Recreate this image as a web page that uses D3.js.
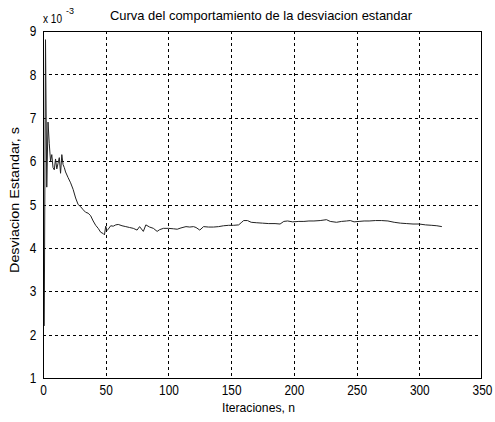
<!DOCTYPE html>
<html>
<head>
<meta charset="utf-8">
<script src="https://cdn.jsdelivr.net/npm/d3@7"></script>
<style>
  html, body { margin: 0; padding: 0; background: #fff; }
  svg text { font-family: "Liberation Sans", Arial, sans-serif; fill: #000; }
  .sq { transform-box: fill-box; transform-origin: center; transform: scaleX(0.82); }
</style>
</head>
<body>
<svg id="chart" width="495" height="422"></svg>
<script>
// ---- data ----
const iterations = [1,2,3,4,5,6,7,8,9,10,11,12,13,14,15,16,17,18,20,22,24,26,28,30,32,34,36,38,40,42,44,46,48,49,50,51,52,54,56,58,60,63,66,69,72,75,77,80,82,85,88,91,93,96,100,104,107,110,114,117,120,122,125,128,132,136,140,144,148,152,156,158,160,163,166,170,175,180,185,189,192,195,199,204,208,212,216,221,226,229,234,238,242,245,248,252,256,260,265,270,275,280,285,290,295,300,305,310,314,318];
const stdDev = [2.2,8.8,5.4,6.9,6.4,6.0,6.15,5.85,5.8,6.05,5.82,5.95,6.08,5.72,6.15,5.92,5.85,5.75,5.62,5.5,5.35,5.15,5.0,4.95,4.88,4.82,4.8,4.74,4.62,4.52,4.45,4.36,4.33,4.3,4.5,4.4,4.43,4.51,4.5,4.53,4.54,4.51,4.49,4.47,4.45,4.41,4.49,4.38,4.53,4.48,4.45,4.38,4.42,4.45,4.45,4.44,4.43,4.46,4.49,4.48,4.49,4.47,4.41,4.49,4.48,4.48,4.49,4.51,4.52,4.52,4.53,4.58,4.63,4.63,4.59,4.58,4.57,4.56,4.56,4.55,4.61,4.62,4.6,4.61,4.61,4.62,4.62,4.63,4.65,4.61,4.59,4.61,4.62,4.63,4.6,4.61,4.62,4.62,4.63,4.63,4.62,4.59,4.57,4.56,4.55,4.55,4.53,4.52,4.51,4.49];
const xTicks = [0,50,100,150,200,250,300,350];
const yTicks = [1,2,3,4,5,6,7,8,9];
const titleText = "Curva del comportamiento de la desviacion estandar";
const xLabelText = "Iteraciones, n";
const yLabelText = "Desviacion Estandar, s";

// ---- layout ----
const L = 43, T = 31, R = 482, B = 378;
const svg = d3.select("#chart");
const x = d3.scaleLinear().domain([0, 350]).range([L, R]);
const y = d3.scaleLinear().domain([1, 9]).range([B, T]);

// grid
const grid = svg.append("g");
grid.selectAll(".vg").data(xTicks.slice(1, -1)).join("line")
  .attr("x1", d => Math.round(x(d)) + 0.5).attr("x2", d => Math.round(x(d)) + 0.5)
  .attr("y1", T).attr("y2", B)
  .attr("stroke", "#000").attr("stroke-width", 1).attr("stroke-dasharray", "3,3");
grid.selectAll(".hg").data(yTicks.slice(1, -1)).join("line")
  .attr("y1", d => Math.round(y(d)) + 0.5).attr("y2", d => Math.round(y(d)) + 0.5)
  .attr("x1", L).attr("x2", R)
  .attr("stroke", "#000").attr("stroke-width", 1).attr("stroke-dasharray", "3,3");

// data line
svg.append("clipPath").attr("id", "clip").append("rect")
  .attr("x", L).attr("y", T).attr("width", R - L).attr("height", B - T);
const pts = iterations.map((n, i) => [n, stdDev[i]]);
svg.append("path").datum(pts)
  .attr("clip-path", "url(#clip)")
  .attr("fill", "none").attr("stroke", "#222").attr("stroke-width", 1)
  .attr("d", d3.line().x(d => x(d[0])).y(d => y(d[1])));

// frame
svg.append("rect").attr("x", L + 0.5).attr("y", T + 0.5)
  .attr("width", R - L - 1).attr("height", B - T)
  .attr("fill", "none").attr("stroke", "#000").attr("stroke-width", 1);

// x axis tick labels via d3 axis
const xAxis = svg.append("g").attr("transform", `translate(0,${B})`)
  .call(d3.axisBottom(x).tickValues(xTicks).tickSize(0).tickPadding(7).tickFormat(d3.format("d")));
xAxis.select(".domain").remove();
xAxis.selectAll("text").attr("font-size", 14.5).attr("font-family", null).attr("class", "sq");

const yAxis = svg.append("g").attr("transform", `translate(${L},0)`)
  .call(d3.axisLeft(y).tickValues(yTicks).tickSize(0).tickPadding(6).tickFormat(d3.format("d")));
yAxis.select(".domain").remove();
yAxis.selectAll("text").attr("font-size", 14.5).attr("font-family", null).attr("class", "sq");

// exponent label
svg.append("text").attr("x", 43).attr("y", 23).attr("font-size", 13)
  .attr("textLength", 19).attr("lengthAdjust", "spacingAndGlyphs").text("x 10");
svg.append("text").attr("x", 66).attr("y", 14).attr("font-size", 9.5)
  .attr("textLength", 8).attr("lengthAdjust", "spacingAndGlyphs").text("-3");

// title
svg.append("text").attr("x", 110).attr("y", 20).attr("font-size", 13.5)
  .attr("textLength", 302).attr("lengthAdjust", "spacingAndGlyphs").text(titleText);

// x label
svg.append("text").attr("x", 222).attr("y", 412).attr("font-size", 13)
  .attr("textLength", 73).attr("lengthAdjust", "spacingAndGlyphs").text(xLabelText);

// y label
svg.append("text").attr("transform", "translate(19,200) rotate(-90) scale(1,0.88)")
  .attr("text-anchor", "middle").attr("font-size", 14)
  .attr("textLength", 146).attr("lengthAdjust", "spacingAndGlyphs")
  .text(yLabelText);
</script>
</body>
</html>
